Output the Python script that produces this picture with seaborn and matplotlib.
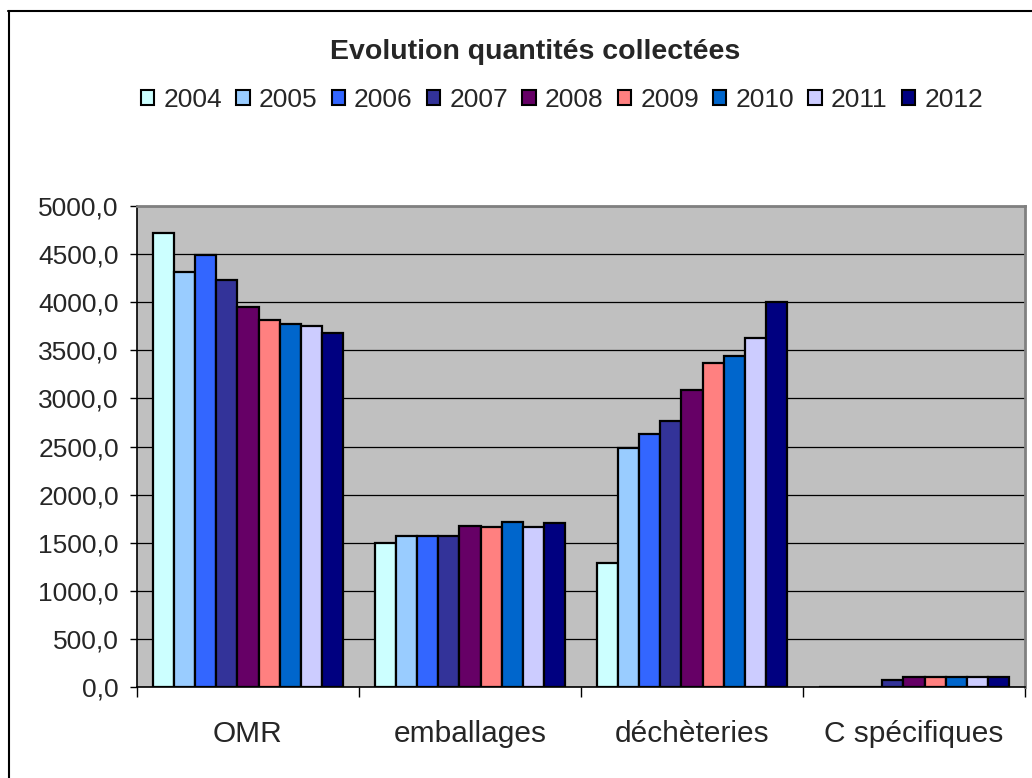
import matplotlib
matplotlib.use("Agg")
import matplotlib.pyplot as plt
from matplotlib.lines import Line2D
from matplotlib.ticker import FuncFormatter, MultipleLocator, FixedLocator
import pandas as pd
import seaborn as sns

# categories and yearly values (tonnes)
categories = ["OMR", "emballages", "déchèteries", "C spécifiques"]
years = ["2004", "2005", "2006", "2007", "2008", "2009", "2010", "2011", "2012"]
omr = [4720, 4310, 4490, 4230, 3950, 3820, 3775, 3750, 3680]
emballages = [1495, 1570, 1565, 1565, 1670, 1665, 1720, 1665, 1700]
decheteries = [1290, 2480, 2630, 2760, 3090, 3370, 3445, 3625, 4005]
c_specifiques = [0, 0, 0, 75, 100, 100, 100, 100, 100]
colors = ["#CCFFFF", "#99CCFF", "#3366FF", "#333399", "#660066",
          "#FF8080", "#0066CC", "#CCCCFF", "#000080"]

rows = []
for cat, vals in zip(categories, [omr, emballages, decheteries, c_specifiques]):
    for yr, v in zip(years, vals):
        rows.append({"cat": cat, "year": yr, "val": v})
df = pd.DataFrame(rows)

sns.set_style("ticks")
plt.rcParams["font.family"] = ["Liberation Sans", "DejaVu Sans"]

fig = plt.figure(figsize=(10.32, 7.78), dpi=100)
ax = fig.add_axes([137 / 1032, 1 - 687 / 778, (1025 - 137) / 1032, (687 - 206) / 778])

sns.barplot(data=df, x="cat", y="val", hue="year", palette=colors, saturation=1,
            order=categories, hue_order=years, width=0.86, gap=0,
            edgecolor="black", linewidth=1.6, errorbar=None, ax=ax)
ax.get_legend().remove()

ax.set_facecolor("#C0C0C0")
ax.set_ylim(0, 5000)
ax.set_xlim(-0.5, 3.5)
ax.yaxis.set_major_locator(MultipleLocator(500))
ax.yaxis.set_major_formatter(FuncFormatter(lambda v, p: f"{v:.1f}".replace(".", ",")))
ax.set_axisbelow(True)
ax.grid(axis="y", color="black", linewidth=0.9)
ax.set_xlabel("")
ax.set_ylabel("")

ax.tick_params(axis="y", labelsize=19, length=5, width=1, color="black", pad=8, direction="out")
ax.tick_params(axis="x", which="major", labelsize=21.5, length=0, pad=24)
ax.xaxis.set_minor_locator(FixedLocator([-0.5, 0.5, 1.5, 2.5, 3.5]))
ax.tick_params(axis="x", which="minor", length=7, width=1, color="black", direction="out")

for s in ["left", "bottom"]:
    ax.spines[s].set_color("black")
    ax.spines[s].set_linewidth(1.2)
for s in ["top", "right"]:
    ax.spines[s].set_visible(True)
    ax.spines[s].set_color("#808080")
    ax.spines[s].set_linewidth(2)

fig.text(535 / 1032, 1 - 52 / 778, "Evolution quantités collectées",
         ha="center", va="center", fontsize=20.5, fontweight="bold")

handles = [plt.Rectangle((0, 0), 1, 1, facecolor=c, edgecolor="black", linewidth=1.5)
           for c in colors]
fig.legend(handles, years, loc="center", bbox_to_anchor=(562 / 1032, 1 - 100 / 778),
           ncol=9, frameon=False, fontsize=19, handlelength=0.5, handleheight=0.5,
           handletextpad=0.35, columnspacing=0.54, borderpad=0)

# outer chart border (left and top visible)
fig.add_artist(Line2D([8.5 / 1032, 8.5 / 1032], [0, 1 - 11 / 778], color="black", linewidth=1.5))
fig.add_artist(Line2D([8 / 1032, 1], [1 - 11 / 778, 1 - 11 / 778], color="black", linewidth=1.5))

fig.savefig("out.png", dpi=100, facecolor="white")
